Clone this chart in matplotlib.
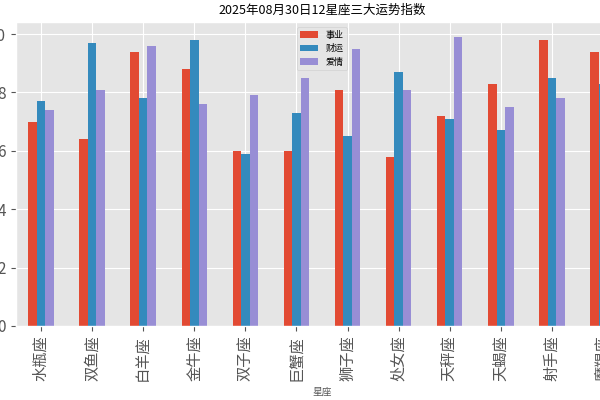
import matplotlib.pyplot as plt
import pandas as pd

plt.style.use('ggplot')
plt.rcParams['font.family'] = ['Noto Sans CJK SC', 'DejaVu Sans']
plt.rcParams['axes.unicode_minus'] = False

# 数据
signs = ['水瓶座', '双鱼座', '白羊座', '金牛座', '双子座', '巨蟹座',
         '狮子座', '处女座', '天秤座', '天蝎座', '射手座', '摩羯座']
career = [7.0, 6.4, 9.4, 8.8, 6.0, 6.0, 8.1, 5.8, 7.2, 8.3, 9.8, 9.4]
wealth = [7.7, 9.7, 7.8, 9.8, 5.9, 7.3, 6.5, 8.7, 7.1, 6.7, 8.5, 8.3]
love = [7.4, 8.1, 9.6, 7.6, 7.9, 8.5, 9.5, 8.1, 9.9, 7.5, 7.8, 8.0]

df = pd.DataFrame({'事业': career, '财运': wealth, '爱情': love}, index=signs)
df.index.name = '星座'

fig = plt.figure(figsize=(6, 4), dpi=100)
# 原图左右被裁切，坐标轴超出画布
ax = fig.add_axes([15.5 / 600, 74 / 400, 613 / 600, 303.5 / 400])
df.plot.bar(ax=ax)

ax.set_title('2025年08月30日12星座三大运势指数', fontsize=9)
ax.set_xlabel('星座', fontsize=7)
ax.tick_params(axis='x', labelsize=11)
ax.tick_params(axis='y', labelsize=11)
ax.legend(loc='upper center', fontsize=6.5)

fig.savefig('out.png', dpi=100)
